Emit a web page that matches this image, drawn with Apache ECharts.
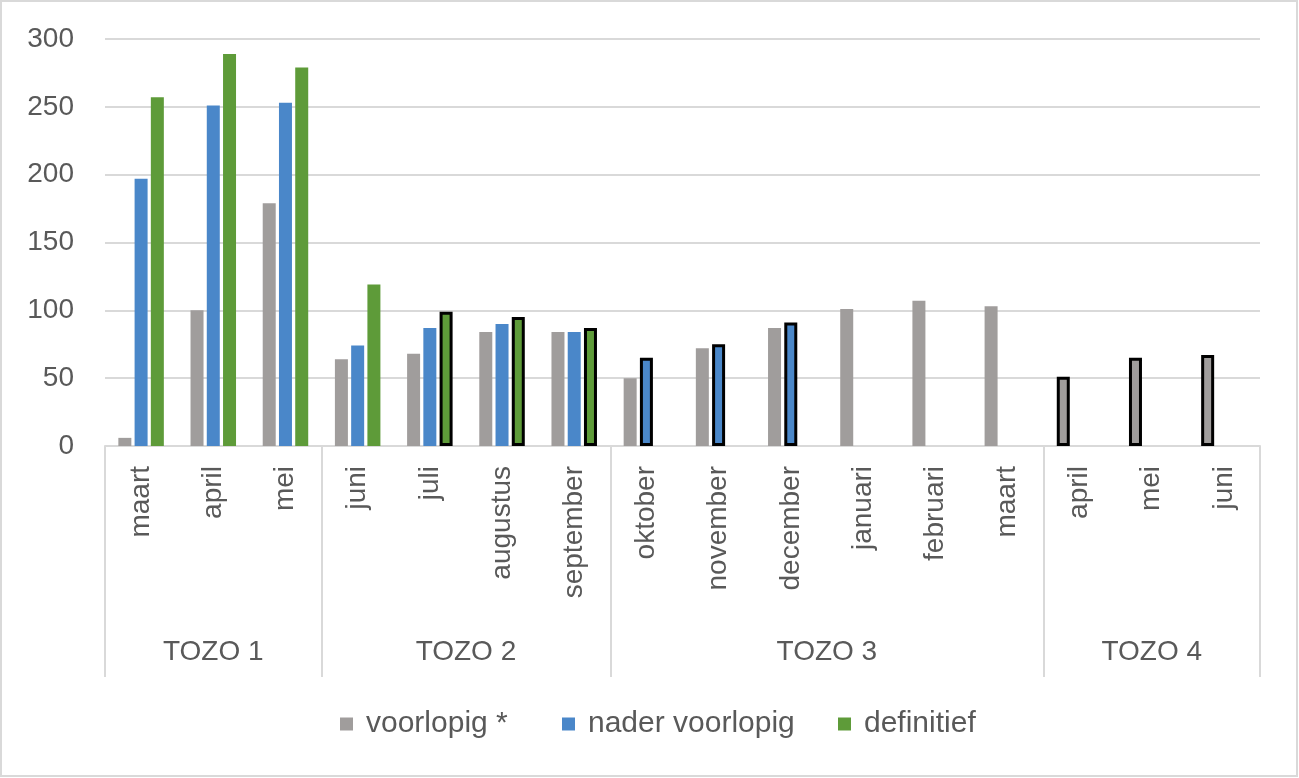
<!DOCTYPE html>
<html>
<head>
<meta charset="utf-8">
<script src="https://cdn.jsdelivr.net/npm/echarts@6/dist/echarts.min.js"></script>
<style>
html,body{margin:0;padding:0;background:#fff;}
#chart{width:1299px;height:778px;}
</style>
</head>
<body>
<div id="chart"></div>
<script>
// ---- data ----
const months = ['maart','april','mei','juni','juli','augustus','september','oktober','november','december','januari','februari','maart','april','mei','juni'];
const groupNames = ['TOZO 1','TOZO 2','TOZO 3','TOZO 4'];
const groupSizes = [3, 4, 6, 3];
const seriesNames = ['voorlopig *', 'nader voorlopig', 'definitief'];
const voorlopig = [6, 100, 179, 64, 68, 84, 84, 50, 72, 87, 101, 107, 103, 51, 65, 67];
const naderVoorlopig = [197, 251, 253, 74, 87, 90, 84, 65, 75, 91, null, null, null, null, null, null];
const definitief = [257, 289, 279, 119, 99, 95, 87, null, null, null, null, null, null, null, null, null];
const yTicks = [0, 50, 100, 150, 200, 250, 300];

// indices of bars drawn with a black outline
const outlinedVoorlopig = [13, 14, 15];
const outlinedNader = [7, 8, 9];
const outlinedDefinitief = [4, 5, 6];

const FONT = 'Liberation Sans';
const TXT = '#595959';
const GRID = '#D9D9D9';

function styled(values, outlined) {
  return values.map((v, i) => outlined.includes(i)
    ? { value: v, itemStyle: { borderColor: '#000', borderWidth: 3 } }
    : v);
}

// group axis: half-category points (boundaryGap false), 2*N+1 points
const nCat = months.length;
const groupAxisData = [];
for (let k = 0; k <= 2 * nCat; k++) groupAxisData.push('');
const boundaryIdx = [0];
let acc = 0;
groupSizes.forEach((s, gi) => {
  const center = acc + s / 2;
  groupAxisData[Math.round(center * 2)] = groupNames[gi];
  acc += s;
  boundaryIdx.push(acc * 2);
});

const legendLefts = [335, 557, 833];
const legends = seriesNames.map((n, i) => ({
  bottom: 34,
  left: legendLefts[i],
  itemWidth: 13,
  itemHeight: 13,
  icon: 'rect',
  textStyle: { fontSize: 30, color: TXT, fontFamily: FONT, padding: [0, 0, 0, 8] },
  data: [n]
}));

const chart = echarts.init(document.getElementById('chart'));
chart.setOption({
  backgroundColor: '#fff',
  animation: false,
  textStyle: { fontFamily: FONT },
  grid: { left: 105, right: 39, top: 39, bottom: 332, containLabel: false },
  legend: legends,
  xAxis: [
    {
      type: 'category',
      data: months,
      position: 'bottom',
      axisLine: { show: true, lineStyle: { color: GRID, width: 2 } },
      axisTick: { show: false },
      axisLabel: { rotate: 90, margin: 20, fontSize: 28, color: TXT, fontFamily: FONT, interval: 0 }
    },
    {
      type: 'category',
      data: groupAxisData,
      boundaryGap: false,
      position: 'bottom',
      axisLine: { show: false },
      axisTick: {
        show: true,
        length: 231,
        interval: (idx) => boundaryIdx.includes(idx),
        lineStyle: { color: GRID, width: 2 }
      },
      axisLabel: { interval: 0, margin: 192, fontSize: 28, color: TXT, fontFamily: FONT },
      splitLine: { show: false }
    }
  ],
  yAxis: {
    type: 'value',
    min: yTicks[0],
    max: yTicks[yTicks.length - 1],
    interval: 50,
    axisLine: { show: false },
    axisTick: { show: false },
    axisLabel: { margin: 31, fontSize: 28, color: TXT, fontFamily: FONT },
    splitLine: { lineStyle: { color: GRID, width: 2 } }
  },
  series: [
    {
      name: seriesNames[0], type: 'bar', xAxisIndex: 0,
      data: styled(voorlopig, outlinedVoorlopig),
      barWidth: 13, barGap: '25%',
      itemStyle: { color: '#A09D9C' }
    },
    {
      name: seriesNames[1], type: 'bar', xAxisIndex: 0,
      data: styled(naderVoorlopig, outlinedNader),
      barWidth: 13, barGap: '25%',
      itemStyle: { color: '#4A87C9' }
    },
    {
      name: seriesNames[2], type: 'bar', xAxisIndex: 0,
      data: styled(definitief, outlinedDefinitief),
      barWidth: 13, barGap: '25%',
      itemStyle: { color: '#5E9B39' }
    }
  ],
  graphic: [
    {
      type: 'rect',
      shape: { x: 1, y: 1, width: 1296, height: 775 },
      style: { fill: 'none', stroke: GRID, lineWidth: 2 },
      silent: true
    }
  ]
});
</script>
</body>
</html>
